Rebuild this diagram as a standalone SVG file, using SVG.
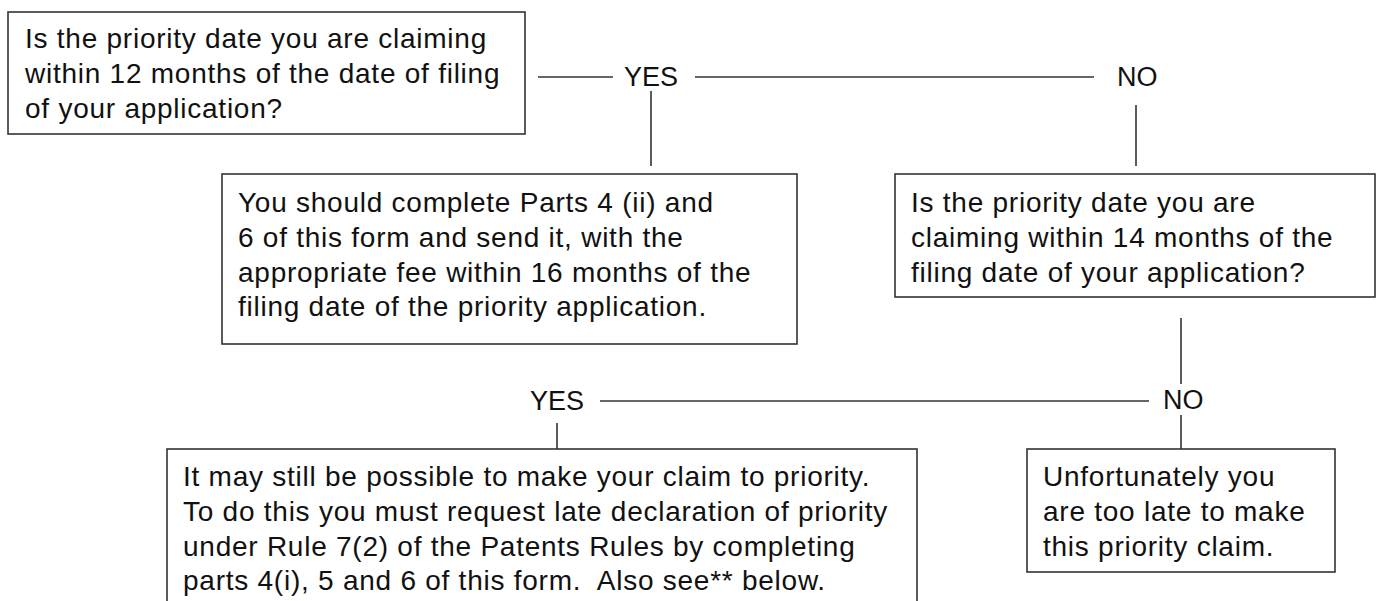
<svg xmlns="http://www.w3.org/2000/svg" width="1377" height="601" viewBox="0 0 1377 601">
<style>
  .box { fill: #fff; stroke: #333; stroke-width: 1.6; }
  .t { font-family: "Liberation Sans", Arial, Helvetica, sans-serif; font-size: 28px; letter-spacing: 0.75px; fill: #111; white-space: pre; }
  .lbl { font-family: "Liberation Sans", Arial, Helvetica, sans-serif; font-size: 27px; fill: #111; }
  .c { stroke: #333; stroke-width: 1.6; fill: none; }
</style>
<rect x="0" y="0" width="1377" height="601" fill="#fff"/>
<g id="connectors">
  <line class="c" x1="538" y1="77" x2="613" y2="77"/>
  <line class="c" x1="695" y1="77" x2="1094" y2="77"/>
  <line class="c" x1="651" y1="91" x2="651" y2="166"/>
  <line class="c" x1="1136" y1="105" x2="1136" y2="166"/>
  <line class="c" x1="1181" y1="318" x2="1181" y2="384"/>
  <line class="c" x1="1181" y1="415" x2="1181" y2="449"/>
  <line class="c" x1="600" y1="401" x2="1149" y2="401"/>
  <line class="c" x1="557" y1="423" x2="557" y2="449"/>
  <text class="lbl" x="624" y="86">YES</text>
  <text class="lbl" x="1117" y="86">NO</text>
  <text class="lbl" x="530" y="410">YES</text>
  <text class="lbl" x="1163" y="409">NO</text>
</g>
<g id="q1">
  <rect class="box" x="8" y="12" width="517" height="122"/>
  <text class="t" x="25" y="48">Is the priority date you are claiming</text>
  <text class="t" x="25" y="83">within 12 months of the date of filing</text>
  <text class="t" x="25" y="118">of your application?</text>
</g>
<g id="a1">
  <rect class="box" x="222" y="174" width="575" height="170"/>
  <text class="t" x="238" y="212">You should complete Parts 4 (ii) and</text>
  <text class="t" x="238" y="247">6 of this form and send it, with the</text>
  <text class="t" x="238" y="282">appropriate fee within 16 months of the</text>
  <text class="t" x="238" y="316">filing date of the priority application.</text>
</g>
<g id="q2">
  <rect class="box" x="895" y="174" width="480" height="123"/>
  <text class="t" x="911" y="212">Is the priority date you are</text>
  <text class="t" x="911" y="247">claiming within 14 months of the</text>
  <text class="t" x="911" y="282">filing date of your application?</text>
</g>
<g id="a2">
  <rect class="box" x="167" y="449" width="750" height="180"/>
  <text class="t" x="183" y="486">It may still be possible to make your claim to priority.</text>
  <text class="t" x="183" y="521">To do this you must request late declaration of priority</text>
  <text class="t" x="183" y="556">under Rule 7(2) of the Patents Rules by completing</text>
  <text class="t" x="183" y="590">parts 4(i), 5 and 6 of this form.  Also see** below.</text>
</g>
<g id="a3">
  <rect class="box" x="1027" y="449" width="308" height="123"/>
  <text class="t" x="1043" y="486">Unfortunately you</text>
  <text class="t" x="1043" y="521">are too late to make</text>
  <text class="t" x="1043" y="556">this priority claim.</text>
</g>
</svg>
